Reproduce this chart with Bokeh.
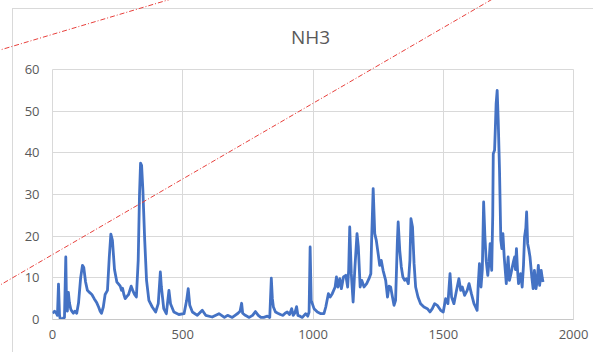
from bokeh.plotting import figure
from bokeh.models import Label, FixedTicker, Range1d, Div
from bokeh.embed import file_html
from bokeh.resources import INLINE

title_text = "NH3"
x_ticks = [0, 500, 1000, 1500, 2000]
y_ticks = [0, 10, 20, 30, 40, 50, 60]

x_vals = [0, 8, 15, 19, 23, 27, 30, 40, 46, 51, 54, 57, 61, 65, 70, 74, 80, 86, 93, 100,
          108, 115, 120, 127, 134, 142, 151, 160, 170, 177, 183, 188, 195, 202, 211, 218, 224, 230, 238, 247,
          254, 260, 265, 269, 274, 279, 285, 292, 302, 308, 315, 322, 329, 334, 338, 342, 347, 354, 361, 370,
          383, 396, 406, 414, 418, 427, 437, 447, 453, 466, 485, 505, 515, 521, 527, 537, 556, 575, 588, 613,
          639, 660, 672, 690, 701, 712, 720, 726, 730, 740, 755, 768, 779, 790, 800, 811, 825, 834, 840, 844,
          848, 856, 865, 875, 885, 893, 901, 910, 918, 924, 930, 937, 942, 950, 959, 972, 980, 985, 989, 993,
          1004, 1017, 1030, 1042, 1049, 1059, 1066, 1074, 1085, 1090, 1096, 1103, 1109, 1117, 1126, 1133, 1137, 1141, 1147, 1154,
          1161, 1169, 1174, 1181, 1187, 1196, 1206, 1215, 1222, 1225, 1231, 1237, 1243, 1251, 1256, 1262, 1269, 1279, 1286, 1292,
          1298, 1305, 1311, 1317, 1324, 1327, 1333, 1339, 1345, 1352, 1359, 1366, 1372, 1376, 1382, 1388, 1394, 1403, 1413, 1426,
          1439, 1449, 1458, 1467, 1477, 1490, 1500, 1509, 1518, 1526, 1532, 1541, 1551, 1560, 1567, 1573, 1582, 1592, 1599, 1608,
          1618, 1624, 1630, 1634, 1639, 1642, 1645, 1650, 1655, 1660, 1665, 1671, 1676, 1680, 1683, 1686, 1690, 1692, 1697, 1700,
          1703, 1707, 1711, 1716, 1721, 1725, 1729, 1734, 1737, 1742, 1749, 1754, 1760, 1765, 1770, 1774, 1777, 1781, 1785, 1789,
          1797, 1803, 1808, 1812, 1817, 1820, 1824, 1828, 1833, 1840, 1845, 1850, 1856, 1860, 1865, 1870, 1876, 1880, 1883]
nh3_vals = [1.5, 2, 1.5, 1, 8.5, 1, 0, 0.3, 0.5, 15, 3, 2, 6.5, 4, 2.5, 2, 1.5, 2, 1.5, 4,
            10, 13, 12.5, 9, 7, 6.5, 6, 5, 4, 3, 2, 1.5, 3, 6, 7, 15, 20.5, 19, 12, 9,
            8.5, 8, 7, 7.5, 6, 5, 5.5, 6, 8, 7, 6, 5.4, 14.2, 30, 37.5, 37, 31, 19, 9.4, 4.6,
            3, 1.8, 3.8, 11.4, 7.8, 2.6, 1.4, 7, 3.8, 1.8, 1.2, 1.4, 4.6, 7.4, 3.4, 1.8, 1, 2.2, 1, 0.6,
            1.4, 0.5, 1, 0.5, 1, 1.5, 2, 3.9, 1.5, 1, 0.5, 1, 1.9, 1, 0.5, 0.5, 0.8, 0.5, 9.9, 5,
            3, 1.8, 1.5, 1.2, 1, 1.5, 1.8, 1.2, 2.6, 1, 1.5, 3.1, 1, 0.8, 0.5, 1.4, 0.8, 1.8, 17.4, 4.6,
            2.6, 1.8, 1.4, 1.4, 3, 6.2, 5.4, 6.2, 7.8, 10.2, 7.8, 9.8, 7.4, 10.2, 10.6, 7.8, 12, 22.2, 11, 4.2,
            12.6, 20.6, 17.4, 7.8, 9.4, 7.8, 8.6, 9.8, 11, 19, 31.4, 20.6, 19, 15.4, 13, 14.2, 11.8, 9.4, 5.4, 8,
            7.8, 5.4, 3.4, 4.6, 19, 23.4, 16.6, 12.6, 10.2, 9.4, 9.8, 8.6, 14.2, 24.2, 22.2, 13.4, 7.8, 5.4, 3.8, 3,
            2.6, 1.8, 2.6, 3.8, 3.4, 2.2, 1.8, 5, 3.8, 11, 5.4, 3.8, 7, 9.8, 7, 7.8, 5.8, 7, 8.6, 6.2,
            3.8, 3, 2.2, 8, 13.4, 10, 7.8, 12, 28.2, 19.8, 14, 10.6, 14, 18.2, 14, 11.8, 25, 39.8, 40.6, 46,
            51.8, 55, 47.8, 35.8, 19, 17, 20.6, 15, 12.6, 8.6, 15, 9.4, 11, 12.6, 14, 15, 12, 17, 12, 8.6,
            11, 7.8, 13, 19.8, 22, 25.8, 18.2, 17, 15, 10.2, 7.4, 11.8, 7.4, 9, 13, 8.2, 11.8, 10, 9]

grid_color = "#D9D9D9"
text_color = "#595959"

p = figure(width=593, height=352, output_backend="svg", toolbar_location=None,
           x_range=Range1d(0, 2000), y_range=Range1d(0, 60),
           min_border_left=52, min_border_right=20, min_border_top=69, min_border_bottom=33)
p.background_fill_color = "white"
p.border_fill_color = "white"
p.outline_line_color = grid_color

p.line(x_vals, nh3_vals, line_color="#4472C4", line_width=2.8, line_join="round")

p.xaxis.ticker = FixedTicker(ticks=x_ticks)
p.yaxis.ticker = FixedTicker(ticks=y_ticks)
p.xgrid.ticker = FixedTicker(ticks=x_ticks)
p.ygrid.ticker = FixedTicker(ticks=y_ticks)
for g in (p.xgrid, p.ygrid):
    g.grid_line_color = grid_color
    g.grid_line_width = 1
for ax in (p.xaxis, p.yaxis):
    ax.major_tick_line_color = None
    ax.minor_tick_line_color = None
    ax.major_tick_out = 0
    ax.major_label_text_color = text_color
    ax.major_label_text_font = "Open Sans"
    ax.major_label_text_font_size = "13px"
p.yaxis.axis_line_color = None
p.xaxis.axis_line_color = "#C8C8C8"
p.yaxis.major_label_standoff = 13
p.xaxis.major_label_standoff = 10

p.add_layout(Label(x=310, y=36, x_units="canvas", y_units="canvas", text=title_text,
                   text_align="center", text_baseline="middle", text_font="Open Sans",
                   text_font_size="19px", text_color=text_color), "above")

# decorative overlay: chart-area border and the two red dash-dot strokes of the original picture
overlay_svg = (
    '<svg xmlns="http://www.w3.org/2000/svg" width="593" height="352" '
    'style="position:absolute;left:0;top:0;pointer-events:none;overflow:hidden">'
    '<rect x="12.5" y="8.5" width="640" height="400" fill="none" stroke="#D9D9D9" stroke-width="1"/>'
    '<line x1="-5" y1="51.5" x2="178" y2="-3" stroke="#E8403C" stroke-width="1" stroke-dasharray="5 2 1 2"/>'
    '<line x1="-5" y1="288" x2="496" y2="-3" stroke="#E8403C" stroke-width="1" stroke-dasharray="5 2 1 2"/>'
    '</svg>'
)
overlay = Div(text=overlay_svg, width=593, height=352,
              styles={"position": "absolute", "left": "0px", "top": "0px",
                      "pointer-events": "none", "z-index": "10"})
p.elements = [overlay]

open("out.html", "w").write(file_html(p, INLINE))
